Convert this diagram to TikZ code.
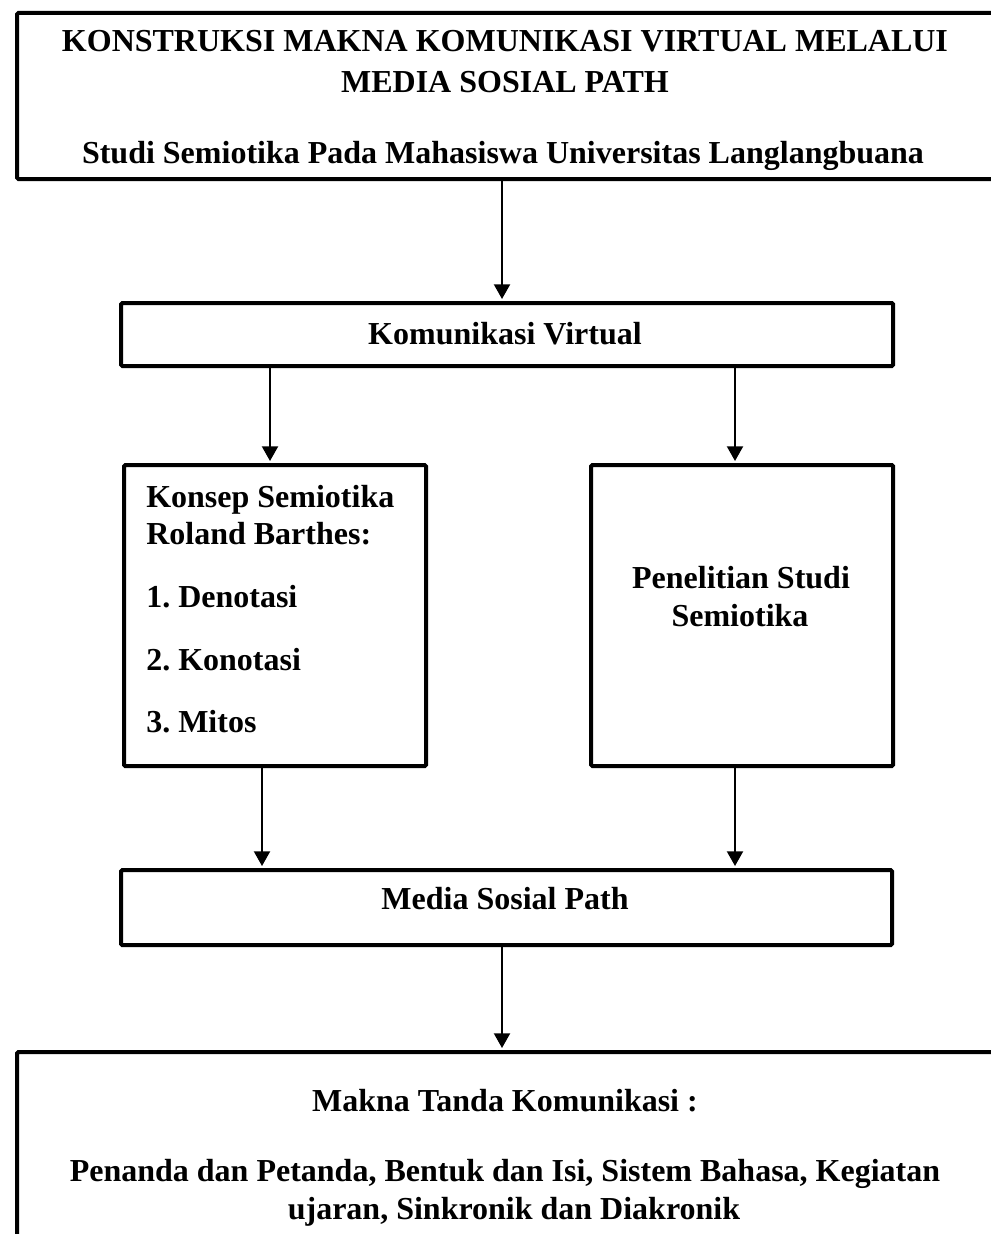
\documentclass[tikz,border=0pt]{standalone}
\usepackage{fontspec}
\setmainfont{Liberation Serif}
\usetikzlibrary{arrows.meta}
\frenchspacing
\begin{document}
\begin{tikzpicture}[x=0.75pt,y=-0.75pt,
  box/.style={draw=black,line width=3pt,rounded corners=1pt,inner sep=0pt,anchor=north west},
  txt/.style={font=\fontsize{24}{28}\selectfont\bfseries,inner sep=0pt,anchor=base},
  ltxt/.style={txt,anchor=base west},
  arr/.style={line width=1.5pt,-{Triangle[width=12pt,length=11pt]},shorten >=1.5pt}]
\useasboundingbox (0,0) rectangle (991,1234);
\clip (0,0) rectangle (991,1234);
% boxes
\node[box,minimum width=1000*0.75pt,minimum height=166*0.75pt] (top) at (15,11) {};
\node[box,minimum width=772*0.75pt,minimum height=63*0.75pt] (kv) at (119,301) {};
\node[box,minimum width=302*0.75pt,minimum height=301*0.75pt] (konsep) at (122,463) {};
\node[box,minimum width=302*0.75pt,minimum height=301*0.75pt] (pen) at (589,463) {};
\node[box,minimum width=771*0.75pt,minimum height=75*0.75pt] (media) at (119,868) {};
\node[box,minimum width=1000*0.75pt,minimum height=220*0.75pt] (bot) at (15,1050) {};
% texts
\node[txt] (t1) at (505,52) {KONSTRUKSI MAKNA KOMUNIKASI VIRTUAL MELALUI};
\node[txt] (t2) at (505,93) {MEDIA SOSIAL PATH};
\node[txt] (t3) at (503,163) {Studi Semiotika Pada Mahasiswa Universitas Langlangbuana};
\node[txt] (tkv) at (505,344) {Komunikasi Virtual};
\node[ltxt] (k1) at (146,507) {Konsep Semiotika};
\node[ltxt] (k2) at (146,544) {Roland Barthes:};
\node[ltxt] (k3) at (146,607) {1. Denotasi};
\node[ltxt] (k4) at (146,670) {2. Konotasi};
\node[ltxt] (k5) at (146,732) {3. Mitos};
\node[txt] (p1) at (741,588) {Penelitian Studi};
\node[txt] (p2) at (740,626) {Semiotika};
\node[txt] (tm) at (505,909) {Media Sosial Path};
\node[txt] (b1) at (505,1111) {Makna Tanda Komunikasi :};
\node[txt] (b2) at (505,1181) {Penanda dan Petanda, Bentuk dan Isi, Sistem Bahasa, Kegiatan};
\node[txt] (b3) at (514,1219) {ujaran, Sinkronik dan Diakronik};
% connector columns
\coordinate (cA) at (502,0);
\coordinate (cB) at (270,0);
\coordinate (cC) at (735,0);
\coordinate (cD) at (262,0);
\draw[arr] (top.south -| cA) -- (kv.north -| cA);
\draw[arr] (kv.south -| cB) -- (konsep.north -| cB);
\draw[arr] (kv.south -| cC) -- (pen.north -| cC);
\draw[arr] (konsep.south -| cD) -- (media.north -| cD);
\draw[arr] (pen.south -| cC) -- (media.north -| cC);
\draw[arr] (media.south -| cA) -- (bot.north -| cA);
\end{tikzpicture}
\end{document}
